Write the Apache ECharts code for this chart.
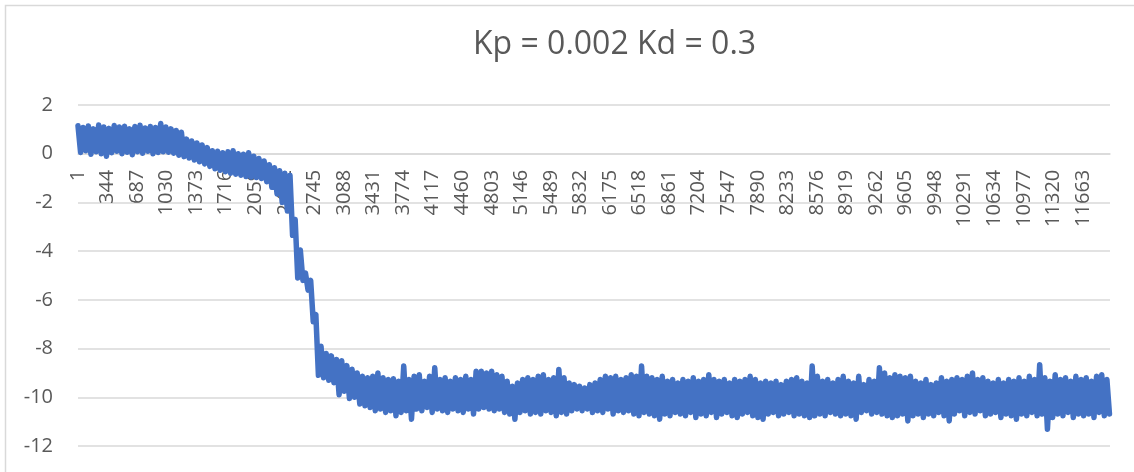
<!DOCTYPE html>
<html>
<head>
<meta charset="utf-8">
<script src="https://cdn.jsdelivr.net/npm/echarts@6/dist/echarts.min.js"></script>
<style>
html,body{margin:0;padding:0;background:#fff;}
#chart{width:1134px;height:472px;}
</style>
</head>
<body>
<div id="chart"></div>
<script>
// Chart title
const titleText = 'Kp = 0.002 Kd = 0.3';
// Sample spacing between the read envelope points (in sample numbers)
const STEP = 60;
const N_SAMPLES = 11976;
// Upper envelope of the noisy signal, read every STEP samples starting at sample 0
const hi = [
  1.15, 1.08, 1.14, 1.02, 1.18, 1.10, 1.04, 1.16, 1.10, 1.13,
  1.02, 1.12, 1.17, 1.06, 1.12, 1.08, 1.24, 1.10, 1.02, 0.95,
  0.88, 0.60, 0.52, 0.44, 0.36, 0.25, 0.12, 0.10, 0.04, 0.08,
  0.12, 0.00, -0.02, 0.04, -0.10, -0.20, -0.30, -0.45, -0.58, -0.70,
  -0.80, -0.88, -2.70, -3.95, -4.90, -5.20, -6.60, -7.90, -8.20, -8.30,
  -8.45, -8.50, -8.70, -8.85, -9.00, -9.14, -9.20, -9.14, -9.00, -9.20,
  -9.27, -9.24, -9.34, -8.72, -9.27, -9.14, -9.07, -9.34, -9.14, -8.79,
  -9.27, -9.20, -9.34, -9.20, -9.27, -9.14, -9.27, -8.93, -8.93, -9.00,
  -8.93, -9.07, -9.14, -9.34, -9.55, -9.41, -9.27, -9.20, -9.27, -9.14,
  -9.07, -9.27, -9.20, -8.86, -9.20, -9.41, -9.48, -9.55, -9.62, -9.48,
  -9.41, -9.27, -9.14, -9.20, -9.14, -9.27, -9.20, -9.07, -9.14, -8.72,
  -9.14, -9.20, -9.27, -9.14, -9.34, -9.27, -9.41, -9.27, -9.34, -9.20,
  -9.34, -9.27, -9.07, -9.27, -9.34, -9.27, -9.41, -9.27, -9.34, -9.27,
  -9.14, -9.27, -9.41, -9.34, -9.41, -9.34, -9.48, -9.34, -9.27, -9.20,
  -9.34, -9.41, -8.72, -9.14, -9.34, -9.27, -9.41, -9.27, -9.14, -9.34,
  -9.41, -9.14, -9.48, -9.27, -9.34, -8.79, -9.00, -9.20, -9.07, -9.14,
  -9.20, -9.14, -9.34, -9.41, -9.27, -9.48, -9.41, -9.20, -9.34, -9.27,
  -9.20, -9.27, -9.14, -9.00, -9.27, -9.20, -9.34, -9.41, -9.27, -9.41,
  -9.27, -9.34, -9.20, -9.34, -9.14, -9.27, -8.66, -9.20, -9.34, -9.07,
  -9.27, -9.20, -9.34, -9.14, -9.27, -9.20, -9.34, -9.14, -9.07, -9.27
];
// Lower envelope, read every STEP samples starting at sample STEP/2
const lo = [
  0.05, 0.12, -0.02, 0.08, 0.00, -0.10, 0.04, 0.10, 0.00, 0.06,
  -0.04, 0.08, 0.02, 0.10, 0.00, 0.05, 0.08, 0.06, 0.02, -0.06,
  -0.12, -0.18, -0.26, -0.33, -0.42, -0.52, -0.62, -0.68, -0.74, -0.80,
  -0.84, -0.88, -0.94, -0.96, -0.98, -1.02, -1.15, -1.38, -1.65, -2.00,
  -2.35, -3.35, -5.10, -5.20, -5.60, -6.90, -9.10, -9.20, -9.30, -9.40,
  -9.90, -9.75, -10.05, -10.00, -10.28, -10.35, -10.42, -10.55, -10.48, -10.62,
  -10.55, -10.76, -10.62, -10.55, -10.90, -10.48, -10.55, -10.42, -10.62, -10.48,
  -10.55, -10.62, -10.48, -10.55, -10.62, -10.48, -10.69, -10.48, -10.42, -10.48,
  -10.55, -10.48, -10.62, -10.69, -10.90, -10.62, -10.55, -10.69, -10.62, -10.69,
  -10.55, -10.62, -10.76, -10.62, -10.69, -10.55, -10.48, -10.55, -10.48, -10.62,
  -10.55, -10.62, -10.48, -10.69, -10.55, -10.62, -10.55, -10.69, -10.76, -10.62,
  -10.69, -10.76, -10.90, -10.69, -10.76, -10.62, -10.69, -10.76, -10.62, -10.83,
  -10.69, -10.76, -10.62, -10.83, -10.69, -10.62, -10.76, -10.83, -10.69, -10.62,
  -10.76, -10.83, -10.90, -10.69, -10.62, -10.76, -10.69, -10.62, -10.76, -10.69,
  -10.76, -10.83, -10.76, -10.69, -10.76, -10.62, -10.69, -10.76, -10.69, -10.76,
  -10.90, -10.62, -10.55, -10.69, -10.62, -10.69, -10.76, -10.83, -10.76, -10.69,
  -10.97, -10.76, -10.69, -10.83, -10.69, -10.76, -10.62, -10.76, -10.97, -10.69,
  -10.55, -10.76, -10.62, -10.69, -10.55, -10.76, -10.69, -10.62, -10.83, -10.69,
  -10.76, -10.90, -10.69, -10.76, -10.62, -10.76, -10.69, -11.31, -10.83, -10.69,
  -10.76, -10.62, -10.83, -10.69, -10.76, -10.69, -10.83, -10.62, -10.76, -10.69
];
// Y axis ticks
const yMin = -12, yMax = 2, yStep = 2;
// X axis tick labels every 343 samples (1, 344, 687, ...)
const xLabelStep = 343;

const series = [];
for (let k = 0; k < hi.length; k++) {
  series.push([k * STEP, hi[k]]);
  series.push([k * STEP + STEP / 2, lo[k]]);
}

const FONT = '"Open Sans", "Liberation Sans", sans-serif';
const TXT = '#595959';
const GRID = '#d9d9d9';

const GRID_TOP = 105, GRID_BOTTOM = 26, H = 472;
const plotH = H - GRID_TOP - GRID_BOTTOM;
// distance from bottom of plot up to the zero line (category axis crosses at 0)
const zeroOffset = plotH * (0 - yMin) / (yMax - yMin);

const chart = echarts.init(document.getElementById('chart'), null, {renderer: 'canvas'});
chart.setOption({
  animation: false,
  backgroundColor: '#ffffff',
  title: {
    text: titleText,
    left: 473,
    top: 29,
    padding: 0,
    textStyle: {color: TXT, fontSize: 32, fontWeight: 'normal', fontFamily: FONT}
  },
  graphic: [{
    type: 'rect', silent: true, z: -1,
    shape: {x: 5.5, y: 5.5, width: 1140, height: 500},
    style: {fill: 'none', stroke: GRID, lineWidth: 1.5}
  }],
  grid: {left: 78, right: 24, top: GRID_TOP, bottom: GRID_BOTTOM, containLabel: false, outerBoundsMode: 'none'},
  xAxis: {
    type: 'value',
    position: 'bottom',
    offset: -zeroOffset,
    min: 0,
    max: N_SAMPLES,
    interval: xLabelStep,
    axisLine: {show: true, onZero: false, lineStyle: {color: GRID, width: 1.5}},
    axisTick: {show: false},
    splitLine: {show: false},
    axisLabel: {
      rotate: 90,
      margin: 16,
      color: TXT,
      fontSize: 20,
      fontFamily: FONT,
      showMaxLabel: false,
      showMinLabel: true,
      hideOverlap: false,
      formatter: function (v) { return String(Math.round(v) + 1); }
    }
  },
  yAxis: {
    type: 'value',
    min: yMin,
    max: yMax,
    interval: yStep,
    axisLine: {show: false, onZero: false},
    axisTick: {show: false},
    splitLine: {show: true, lineStyle: {color: GRID, width: 1.5}},
    axisLabel: {color: TXT, fontSize: 20, fontFamily: FONT, margin: 25}
  },
  series: [{
    type: 'line',
    data: series,
    showSymbol: false,
    symbol: 'none',
    sampling: false,
    lineStyle: {color: '#4472C4', width: 5.5, join: 'round', cap: 'round'},
    z: 3
  }]
});
</script>
</body>
</html>
